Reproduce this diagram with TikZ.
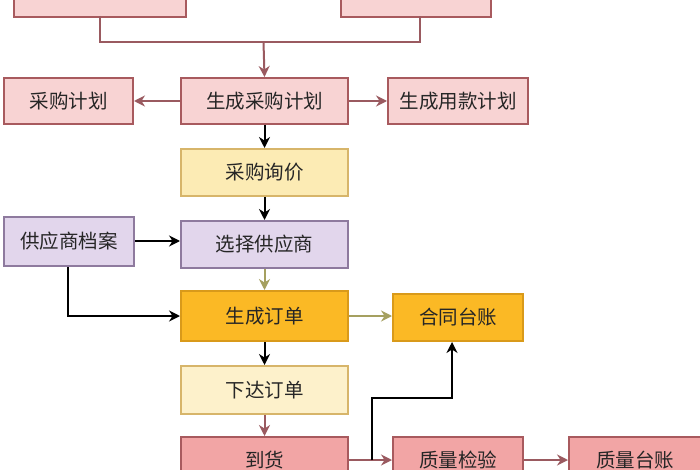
\documentclass[tikz,border=0pt]{standalone}
\usepackage{fontspec}
\setmainfont{Noto Sans CJK SC}
\usetikzlibrary{arrows.meta}
\definecolor{pinkf}{HTML}{F8D3D3}
\definecolor{pinkd}{HTML}{A85A5E}
\definecolor{yelf}{HTML}{FCEBB4}
\definecolor{yeld}{HTML}{D7B56A}
\definecolor{lavf}{HTML}{E2D6EC}
\definecolor{lavd}{HTML}{8E7A9E}
\definecolor{orf}{HTML}{FBB925}
\definecolor{ord}{HTML}{D99A1A}
\definecolor{redf}{HTML}{F2A5A5}
\definecolor{olive}{HTML}{A5A060}
\definecolor{mauve}{HTML}{9A5A60}
\begin{document}
\begin{tikzpicture}[x=1pt,y=-1pt,
 bx/.style={draw,line width=2pt,anchor=north west,inner sep=0pt,font=\fontsize{19.5}{22}\selectfont,text=black!85},
 pk/.style={bx,draw=pinkd,fill=pinkf},
 ar/.style={line width=2pt,-{Stealth[length=11pt,width=11pt]}}]
\useasboundingbox (0,0) rectangle (700,470);
\fill[white] (0,0) rectangle (700,470);
\node[pk,minimum width=172pt,minimum height=30pt] (t1) at (13,-14) {};
\node[pk,minimum width=150pt,minimum height=30pt] (t2) at (340,-14) {};
\node[pk,minimum width=167pt,minimum height=46pt] (g) at (180,77) {生成采购计划};
\node[pk,minimum width=129pt,minimum height=46pt] (c) at (3,77) {采购计划};
\node[pk,minimum width=140pt,minimum height=46pt] (y) at (387,77) {生成用款计划};
\node[bx,draw=yeld,fill=yelf,minimum width=167pt,minimum height=47pt] (x) at (180,148) {采购询价};
\node[bx,draw=lavd,fill=lavf,minimum width=167pt,minimum height=47pt] (s) at (180,220) {选择供应商};
\node[bx,draw=lavd,fill=lavf,minimum width=130pt,minimum height=49pt] (d) at (3,216) {供应商档案};
\node[bx,draw=ord,fill=orf,minimum width=167pt,minimum height=50pt] (o) at (180,290) {生成订单};
\node[bx,draw=ord,fill=orf,minimum width=130pt,minimum height=47pt] (h) at (392,293) {合同台账};
\node[bx,draw=yeld,fill=yelf!70,minimum width=167pt,minimum height=48pt] (xd) at (180,365) {下达订单};
\node[bx,draw=pinkd,fill=redf,minimum width=167pt,minimum height=46pt] (dh) at (180,436) {到货};
\node[bx,draw=pinkd,fill=redf,minimum width=130pt,minimum height=46pt] (zj) at (392,436) {质量检验};
\node[bx,draw=pinkd,fill=redf,minimum width=132pt,minimum height=46pt] (zt) at (568,436) {质量台账};
\coordinate (j) at (263.5,42);
\draw[mauve,line width=2pt] (100,16) |- (j) -| (420,16);
\draw[ar,mauve] (j) -- (g.north);
\draw[ar,mauve] (g) -- (c);
\draw[ar,mauve] (g) -- (y);
\draw[ar,black] (g) -- (x);
\draw[ar,black] (x) -- (s);
\draw[ar,black] (d.east |- 0,241) -- (s.west |- 0,241);
\draw[ar,black] (d.south -| 68,0) |- (o.west);
\draw[ar,olive] (s) -- (o);
\draw[ar,olive] (o.east |- 0,316) -- (h.west |- 0,316);
\draw[ar,black] (o) -- (xd);
\draw[ar,mauve] (xd) -- (dh);
\draw[ar,mauve] (dh.east |- 0,460) -- (zj.west |- 0,460);
\draw[ar,mauve] (zj.east |- 0,460) -- (zt.west |- 0,460);
\draw[ar,black] (372,460) |- (452,398) -- (h.south -| 452,0);
\end{tikzpicture}
\end{document}
